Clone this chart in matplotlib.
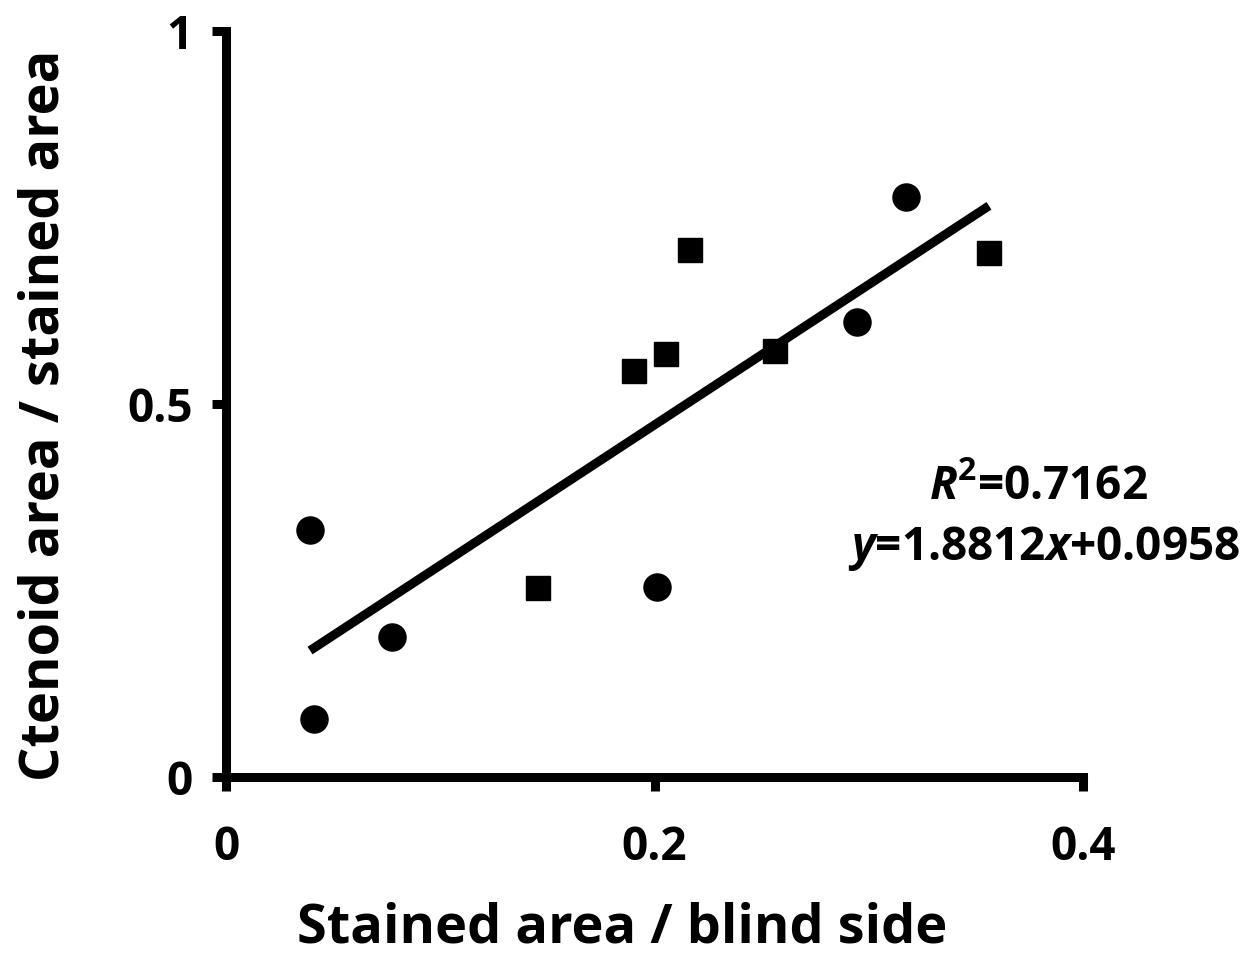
import matplotlib
matplotlib.use('Agg')
import matplotlib.pyplot as plt
import numpy as np

plt.rcParams['font.family'] = ['Open Sans', 'DejaVu Sans']
plt.rcParams['font.weight'] = 'bold'
plt.rcParams['mathtext.fontset'] = 'custom'
plt.rcParams['mathtext.rm'] = 'Open Sans:bold'
plt.rcParams['mathtext.bf'] = 'Open Sans:bold'
plt.rcParams['mathtext.it'] = 'Open Sans:italic:bold'
plt.rcParams['mathtext.bfit'] = 'Open Sans:italic:bold'

# circles
circ_x = [0.0392, 0.0411, 0.0775, 0.2012, 0.2945, 0.3174]
circ_y = [0.331, 0.078, 0.188, 0.255, 0.610, 0.777]
# squares
sq_x = [0.1456, 0.1904, 0.2054, 0.2166, 0.2562, 0.3561]
sq_y = [0.253, 0.544, 0.567, 0.706, 0.571, 0.702]

slope = 1.8812
icpt = 0.0958
r2 = 0.7162

fig = plt.figure(figsize=(12.58, 9.63), dpi=100)
ax = fig.add_axes([0.1797, 0.1931, 0.6812, 0.7747])

lw = 6.5
allx = np.array(circ_x + sq_x)
fx = np.array([allx.min(), allx.max()])
ax.plot(fx, slope * fx + icpt, color='black', lw=lw, solid_capstyle='butt', zorder=2)
ax.plot(circ_x, circ_y, 'o', color='black', ms=19.5, zorder=3)
ax.plot(sq_x, sq_y, 's', color='black', ms=17, zorder=3)

ax.set_xlim(0, 0.4)
ax.set_ylim(0, 1)
ax.set_xticks([0, 0.2, 0.4])
ax.set_xticklabels(['0', '0.2', '0.4'])
ax.set_yticks([0, 0.5, 1])
ax.set_yticklabels(['0', '0.5', '1'])
for s in ['top', 'right']:
    ax.spines[s].set_visible(False)
for s in ['left', 'bottom']:
    ax.spines[s].set_linewidth(lw)
    ax.spines[s].set_capstyle('projecting')
ax.tick_params(direction='out', length=10, width=lw, labelsize=33)
ax.tick_params(axis='x', pad=24)
ax.tick_params(axis='y', pad=14)

ax.set_xlabel('Stained area / blind side', fontsize=39, fontweight='bold', labelpad=22)
ax.set_ylabel('Ctenoid area / stained area', fontsize=39, fontweight='bold', labelpad=40)
ax.xaxis.label.set_x(0.462)
ax.yaxis.label.set_y(0.485)

ax.text(0.948, 0.389, r'$\boldsymbol{R}^{\mathbf{2}}$=%.4f' % r2, transform=ax.transAxes,
        ha='center', va='center', fontsize=33, fontweight='bold')
ax.text(0.955, 0.307, r'$\boldsymbol{y}$=%.4f$\boldsymbol{x}$+%.4f' % (slope, icpt),
        transform=ax.transAxes, ha='center', va='center', fontsize=33, fontweight='bold')

fig.savefig('out.png', dpi=100)
